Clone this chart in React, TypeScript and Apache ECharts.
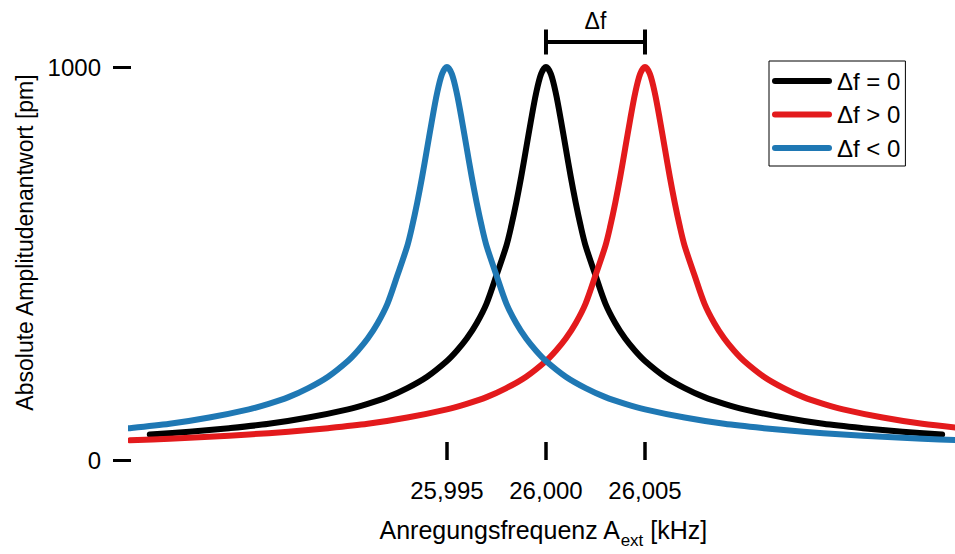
import React, { useEffect, useRef } from 'react';
import * as echarts from 'echarts';

const FONT = '"Liberation Sans", Arial, Helvetica, sans-serif';

const seriesNames = ['Δf = 0', 'Δf > 0', 'Δf < 0'];
const seriesColors = ['#000000', '#e31a1c', '#1f78b4'];

const xTickValues = [25995, 26000, 26005];
const xTickLabels = ['25,995', '26,000', '26,005'];
const yTickValues = [0, 1000];
const yTickLabels = ['0', '1000'];
const deltaF = [26000, 26005];

// Δf = 0 (black)
const blackFreq = [
  25980, 25982, 25984, 25986, 25988, 25990, 25991, 25992, 25993, 25994, 25995, 25995.5, 25996,
  25996.5, 25997, 25997.5, 25998, 25998.25, 25998.5, 25998.75, 25999, 25999.25, 25999.5, 25999.75,
  26000, 26000.25, 26000.5, 26000.75, 26001, 26001.25, 26001.5, 26001.75, 26002, 26002.5, 26003,
  26003.5, 26004, 26004.5, 26005, 26006, 26007, 26008, 26009, 26010, 26012, 26014, 26016, 26018, 26020,
];
const blackAmp = [
  65, 72, 81, 92, 108, 129, 143, 160, 183, 212, 252, 278, 309, 348, 398, 470, 545, 596, 655, 721, 793,
  866, 933, 982, 1000, 982, 933, 866, 793, 721, 655, 596, 545, 470, 398, 348, 309, 278, 252, 212, 183,
  160, 143, 129, 108, 92, 81, 72, 65,
];

// Δf > 0 (red)
const redFreq = [
  25979, 25981, 25983, 25985, 25987, 25989, 25991, 25993, 25995, 25996, 25997, 25998, 25999, 26000,
  26000.5, 26001, 26001.5, 26002, 26002.5, 26003, 26003.25, 26003.5, 26003.75, 26004, 26004.25,
  26004.5, 26004.75, 26005, 26005.25, 26005.5, 26005.75, 26006, 26006.25, 26006.5, 26006.75, 26007,
  26007.5, 26008, 26008.5, 26009, 26009.5, 26010, 26011, 26012, 26013, 26014, 26015, 26017, 26019,
  26021, 26023, 26025,
];
const redAmp = [
  50, 54, 59, 65, 72, 81, 92, 108, 129, 143, 160, 183, 212, 252, 278, 309, 348, 398, 470, 545, 596,
  655, 721, 793, 866, 933, 982, 1000, 982, 933, 866, 793, 721, 655, 596, 545, 470, 398, 348, 309, 278,
  252, 212, 183, 160, 143, 129, 108, 92, 81, 72, 65,
];

// Δf < 0 (blue)
const blueFreq = [
  25975, 25977, 25979, 25981, 25983, 25985, 25986, 25987, 25988, 25989, 25990, 25990.5, 25991,
  25991.5, 25992, 25992.5, 25993, 25993.25, 25993.5, 25993.75, 25994, 25994.25, 25994.5, 25994.75,
  25995, 25995.25, 25995.5, 25995.75, 25996, 25996.25, 25996.5, 25996.75, 25997, 25997.5, 25998,
  25998.5, 25999, 25999.5, 26000, 26001, 26002, 26003, 26004, 26005, 26007, 26009, 26011, 26013,
  26015, 26017, 26019, 26021,
];
const blueAmp = [
  65, 72, 81, 92, 108, 129, 143, 160, 183, 212, 252, 278, 309, 348, 398, 470, 545, 596, 655, 721, 793,
  866, 933, 982, 1000, 982, 933, 866, 793, 721, 655, 596, 545, 470, 398, 348, 309, 278, 252, 212, 183,
  160, 143, 129, 108, 92, 81, 72, 65, 59, 54, 50,
];

const curveFreqs = [blackFreq, redFreq, blueFreq];
const curveAmps = [blackAmp, redAmp, blueAmp];

export default function App() {
  const ref = useRef<HTMLDivElement>(null);

  useEffect(() => {
    if (!ref.current) return;
    const chart = echarts.init(ref.current, undefined, { renderer: 'svg' });

    const lineSeries = seriesNames.map((name, i) => ({
      name,
      type: 'line',
      data: curveFreqs[i].map((f, j) => [f, curveAmps[i][j]]),
      showSymbol: false,
      symbol: 'none',
      smooth: 0.3,
      clip: true,
      color: seriesColors[i],
      lineStyle: { color: seriesColors[i], width: 6, cap: 'round', join: 'round' },
      z: 2 + i,
    }));

    const bracketSeries = {
      type: 'custom',
      name: 'bracket',
      coordinateSystem: 'cartesian2d',
      data: [[deltaF[0], deltaF[1], 1000]],
      encode: { x: [0, 1], y: 2 },
      clip: false,
      silent: true,
      z: 10,
      renderItem: (_params: any, api: any) => {
        const a = api.coord([api.value(0), api.value(2)]);
        const b = api.coord([api.value(1), api.value(2)]);
        const y = a[1] - 25;
        const st = { stroke: '#000', lineWidth: 4 };
        return {
          type: 'group',
          children: [
            { type: 'line', shape: { x1: a[0], y1: y, x2: b[0], y2: y }, style: st },
            { type: 'line', shape: { x1: a[0], y1: y - 12.5, x2: a[0], y2: y + 12.5 }, style: st },
            { type: 'line', shape: { x1: b[0], y1: y - 12.5, x2: b[0], y2: y + 12.5 }, style: st },
            {
              type: 'text',
              style: {
                text: 'Δf',
                x: (a[0] + b[0]) / 2,
                y: y - 21,
                align: 'center',
                verticalAlign: 'middle',
                fontSize: 23,
                fontFamily: FONT,
                fill: '#000',
              },
            },
          ],
        };
      },
    };

    chart.setOption({
      animation: false,
      backgroundColor: '#ffffff',
      textStyle: { fontFamily: FONT },
      grid: { left: 131, right: 0, top: 67, bottom: 92, containLabel: false },
      legend: {
        data: seriesNames,
        orient: 'vertical',
        left: 769,
        top: 61,
        icon: 'path://M3 0H57A3 3 0 0 1 57 6H3A3 3 0 0 1 3 0Z',
        itemWidth: 60,
        itemHeight: 6,
        itemGap: 9.5,
        padding: [8, 5, 6, 3],
        borderColor: '#000',
        borderWidth: 1,
        borderRadius: 0,
        backgroundColor: '#fff',
        selectedMode: false,
        textStyle: { fontSize: 24, color: '#000', fontFamily: FONT },
      },
      xAxis: {
        type: 'value',
        min: 25979.05,
        max: 26020.65,
        axisLine: { show: false },
        splitLine: { show: false },
        axisTick: {
          show: true,
          inside: true,
          length: 18,
          customValues: xTickValues,
          lineStyle: { color: '#000', width: 3.5 },
        },
        axisLabel: {
          customValues: xTickValues,
          formatter: (v: number) => {
            const k = xTickValues.indexOf(v);
            return k >= 0 ? xTickLabels[k] : '';
          },
          fontSize: 24,
          color: '#000',
          margin: 18,
          fontFamily: FONT,
        },
        name: '{m|Anregungsfrequenz A}{s|ext}{m| [kHz]}',
        nameLocation: 'middle',
        nameGap: 51,
        nameTextStyle: {
          rich: {
            m: { fontSize: 25, fontFamily: FONT, color: '#000', lineHeight: 38, verticalAlign: 'middle' },
            s: { fontSize: 17, fontFamily: FONT, color: '#000', lineHeight: 17, verticalAlign: 'bottom' },
          },
        },
      },
      yAxis: {
        type: 'value',
        min: 0,
        max: 1000,
        axisLine: { show: false },
        splitLine: { show: false },
        axisTick: {
          show: true,
          inside: false,
          length: 18,
          customValues: yTickValues,
          lineStyle: { color: '#000', width: 3 },
        },
        axisLabel: {
          customValues: yTickValues,
          formatter: (v: number) => {
            const k = yTickValues.indexOf(v);
            return k >= 0 ? yTickLabels[k] : '';
          },
          fontSize: 24,
          color: '#000',
          margin: 30,
          fontFamily: FONT,
        },
        name: 'Absolute Amplitudenantwort [pm]',
        nameLocation: 'middle',
        nameGap: 95,
        nameTextStyle: { fontSize: 23, color: '#000', fontFamily: FONT, padding: [0, 0, 0, 42] },
      },
      series: [...lineSeries, bracketSeries],
    });

    return () => chart.dispose();
  }, []);

  return (
    <div
      ref={ref}
      style={{ position: 'fixed', left: 0, top: 0, width: 955, height: 554, background: '#fff' }}
    />
  );
}
